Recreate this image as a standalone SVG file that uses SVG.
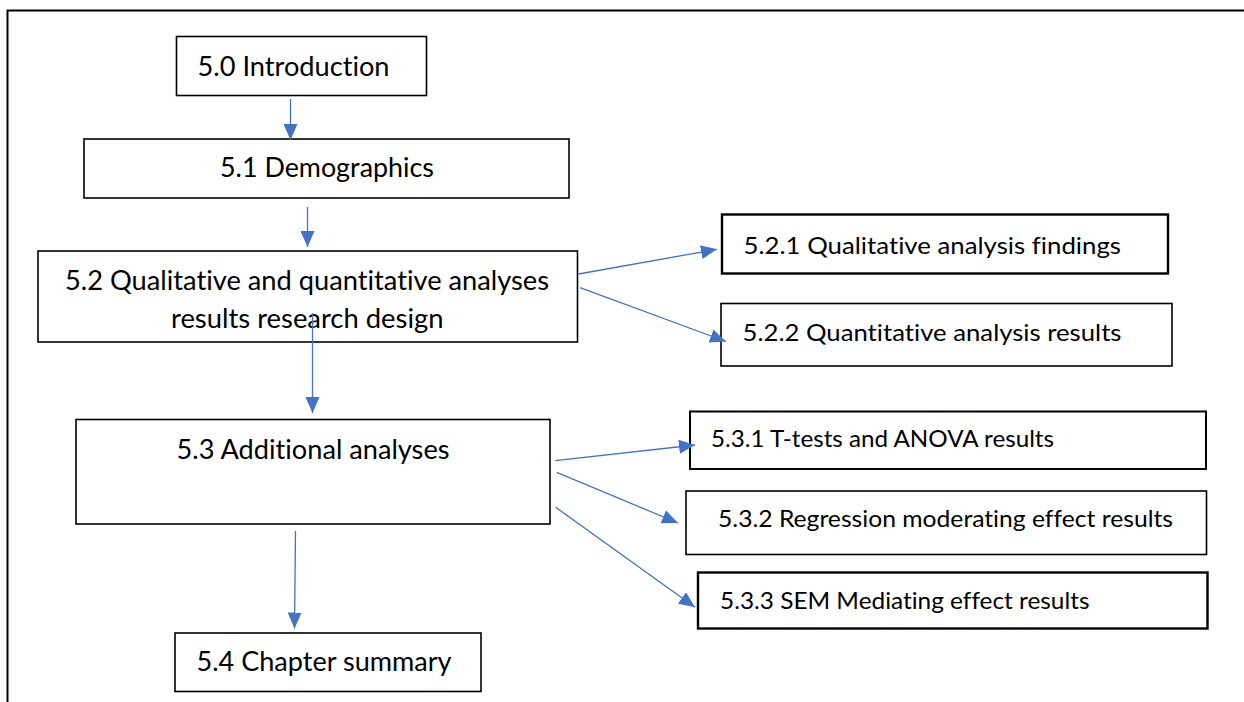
<svg xmlns="http://www.w3.org/2000/svg" width="1244" height="702" viewBox="0 0 1244 702">
  <style>
    .box { fill: #ffffff; stroke: #000000; stroke-width: 1.6; }
    .box.thick { stroke-width: 2.4; }
    .box.mid { stroke-width: 2; }
    .lbl { font-family: Lato, "Liberation Sans", sans-serif; fill: #000000; font-variant-ligatures: none; font-feature-settings: "liga" 0, "clig" 0; }
    .big { font-size: 26px; }
    .small { font-size: 24px; }
    .link { fill: none; stroke: #4472C4; stroke-width: 1.3; marker-end: url(#head); }
    .frame { stroke: #000000; stroke-width: 2; fill: none; }
  </style>
  <defs>
    <marker id="head" markerUnits="userSpaceOnUse" markerWidth="16" markerHeight="14" refX="16" refY="7" orient="auto">
      <path d="M0,0 L16,7 L0,14 Z" fill="#4472C4"/>
    </marker>
  </defs>

  <rect width="1244" height="702" fill="#ffffff"/>

  <!-- page frame: top rule and left rule -->
  <path class="frame" d="M7.5,702 L7.5,10.5 L1244,10.5"/>

  <g id="n50">
    <rect class="box" x="176.5" y="36.5" width="250" height="59"/>
    <text class="lbl big" x="197.5" y="76" textLength="192" lengthAdjust="spacingAndGlyphs">5.0 Introduction</text>
  </g>

  <g id="n51">
    <rect class="box" x="84" y="139" width="485" height="59"/>
    <text class="lbl big" x="220" y="177" textLength="214" lengthAdjust="spacingAndGlyphs">5.1 Demographics</text>
  </g>

  <g id="n52">
    <rect class="box" x="38" y="251" width="539.5" height="91"/>
    <text class="lbl big" x="65" y="290" textLength="484" lengthAdjust="spacingAndGlyphs">5.2 Qualitative and quantitative analyses</text>
    <text class="lbl big" x="171" y="327.5" textLength="272.5" lengthAdjust="spacingAndGlyphs">results research design</text>
  </g>

  <g id="n53">
    <rect class="box" x="76" y="419.5" width="474" height="104.5"/>
    <text class="lbl big" x="176.5" y="458.5" textLength="273" lengthAdjust="spacingAndGlyphs">5.3 Additional analyses</text>
  </g>

  <g id="n54">
    <rect class="box" x="175" y="633" width="306" height="58.5"/>
    <text class="lbl big" x="196.5" y="671" textLength="255" lengthAdjust="spacingAndGlyphs">5.4 Chapter summary</text>
  </g>

  <g id="n521">
    <rect class="box thick" x="722" y="214.5" width="446" height="59"/>
    <text class="lbl small" x="743.5" y="254" textLength="377.5" lengthAdjust="spacingAndGlyphs">5.2.1 Qualitative analysis findings</text>
  </g>

  <g id="n522">
    <rect class="box" x="721" y="303.5" width="451" height="62.5"/>
    <text class="lbl small" x="742.5" y="340.5" textLength="379" lengthAdjust="spacingAndGlyphs">5.2.2 Quantitative analysis results</text>
  </g>

  <g id="n531">
    <rect class="box mid" x="690" y="411.5" width="516" height="57.5"/>
    <text class="lbl small" x="711" y="446.5" textLength="343" lengthAdjust="spacingAndGlyphs">5.3.1 T-tests and ANOVA results</text>
  </g>

  <g id="n532">
    <rect class="box" x="686" y="491" width="520.5" height="63.5"/>
    <text class="lbl small" x="718" y="526.5" textLength="455" lengthAdjust="spacingAndGlyphs">5.3.2 Regression moderating effect results</text>
  </g>

  <g id="n533">
    <rect class="box thick" x="698" y="572.5" width="509.5" height="56"/>
    <text class="lbl small" x="720" y="608.5" textLength="369.5" lengthAdjust="spacingAndGlyphs">5.3.3 SEM Mediating effect results</text>
  </g>

  <g id="connectors">
    <line class="link" x1="290.5" y1="99" x2="290.5" y2="140"/>
    <line class="link" x1="307.5" y1="207" x2="307.5" y2="247"/>
    <line class="link" x1="312.5" y1="313" x2="312.5" y2="413"/>
    <line class="link" x1="295.5" y1="531" x2="294.5" y2="628.5"/>
    <line class="link" x1="578.5" y1="274" x2="717" y2="249.3"/>
    <line class="link" x1="580" y1="287.7" x2="726" y2="341.5"/>
    <line class="link" x1="555.3" y1="460.7" x2="695" y2="445"/>
    <line class="link" x1="556.7" y1="472.3" x2="678" y2="523"/>
    <line class="link" x1="555.7" y1="507.3" x2="695" y2="607.3"/>
  </g>
</svg>
